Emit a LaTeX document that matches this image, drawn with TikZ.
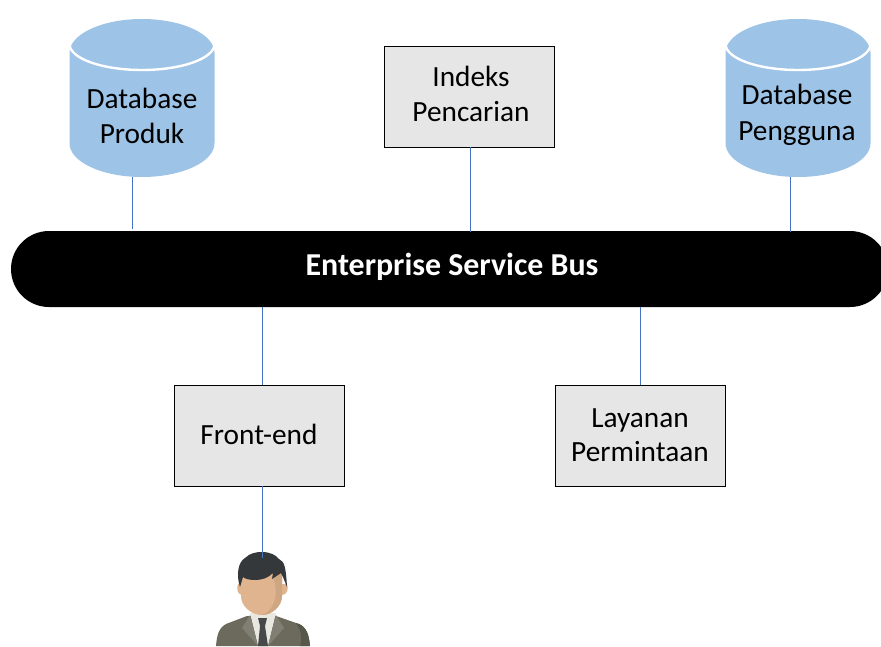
\documentclass[tikz,border=0pt]{standalone}
\usepackage{fontspec}
\setmainfont{Carlito}
\usetikzlibrary{shapes.geometric}
\definecolor{dbblue}{HTML}{9DC3E6}
\definecolor{boxgray}{HTML}{E6E6E6}
\definecolor{linkblue}{HTML}{4472C4}
\definecolor{hairgray}{HTML}{34383B}
\definecolor{skin}{HTML}{DFB48F}
\definecolor{skindark}{HTML}{CFA682}
\definecolor{suit}{HTML}{6B6A5C}
\definecolor{suitdark}{HTML}{58574C}
\definecolor{lapel}{HTML}{7F7F74}
\definecolor{shirt}{HTML}{E8E8E0}
\definecolor{tie}{HTML}{47484A}
\newcommand\nudged[1]{\raisebox{5pt}{\hspace*{4pt}#1}}

\begin{document}
\begin{tikzpicture}[x=1pt,y=-1pt]

\tikzset{database/.style = {shape=cylinder,shape border rotate=90,aspect=0.72,fill=dbblue,minimum width=145pt,minimum height=158pt,inner sep=0pt,text width=94pt,text height=50pt,text depth=0pt,anchor=shape center}}
\tikzset{dbtext/.style = {align=center,inner sep=0pt,font=\fontsize{29.3}{35}\selectfont}}
\tikzset{service/.style = {shape=rectangle,draw,line width=0.7pt,fill=boxgray,minimum width=170pt,minimum height=101pt,inner sep=0pt,align=center,font=\fontsize{29.3}{34.5}\selectfont}}
\tikzset{busbar/.style = {shape=rectangle,fill=black,rounded corners=38pt,minimum width=877pt,minimum height=76pt,inner sep=0pt,text=white,font=\fontsize{31.9}{36}\selectfont\bfseries}}
\tikzset{link/.style = {draw=linkblue,line width=0.9pt}}
\clip (0,0) rectangle (881,646);
%person
\fill[suit] (216,646) .. controls (217,634) and (219,628) .. (226,624) -- (247,616) -- (276,616) -- (299,624) .. controls (306,627) and (309,634) .. (310,646) -- cycle;
\fill[suitdark] (296,623) -- (299,624) .. controls (306,627) and (309,634) .. (310,646) -- (300,646) .. controls (303,636) and (300,628) .. (296,623) -- cycle;
\fill[shirt] (250,613) -- (276,613) -- (268,646) -- (258,646) -- cycle;
\fill[lapel] (250,615) -- (242,628) -- (258,646) -- (254,630) -- cycle;
\fill[lapel] (276,615) -- (284,628) -- (268,646) -- (272,630) -- cycle;
\fill[tie] (258,618) -- (267,618) -- (265,626) -- (268,646) -- (258,646) -- (260,626) -- cycle;
\fill[skin] (238,584) .. controls (236,589) and (238,595) .. (242,595) -- (282,595) .. controls (287,595) and (289,589) .. (287,584) -- cycle;
\fill[skin] (241,570) -- (282,570) -- (282,596) .. controls (282,606) and (272,615) .. (262,615) .. controls (251,615) and (241,606) .. (241,596) -- cycle;
\fill[skindark] (272,570) -- (282,570) -- (282,596) .. controls (282,606) and (272,615) .. (262,615) .. controls (272,612) and (276,600) .. (276,590) -- cycle;
\fill[hairgray] (240,587) .. controls (236,575) and (238,562) .. (245,558) .. controls (250,553) and (256,552) .. (262,552) .. controls (270,552) and (276,555) .. (279,559) .. controls (285,561) and (286,570) .. (287,587) -- (283,577) -- (281,573) -- (272,579) -- (273,573) .. controls (268,578) and (262,580) .. (255,580) .. controls (250,580) and (245,579) .. (243,577) -- cycle;
%verticies
\node[database] (produk) at (142,98) {};
\node[database] (pengguna) at (798,98) {};
\draw[white,line width=2.4pt] (69.5,44) arc[start angle=180,end angle=360,x radius=72.5pt,y radius=26pt];
\draw[white,line width=2.4pt] (725.5,44) arc[start angle=180,end angle=360,x radius=72.5pt,y radius=26pt];
\node[dbtext] (produktext) at (142,116) {Database\\Produk};
\node[dbtext] (penggunatext) at (797,114.5) {Database\\[1pt]Pengguna};
\node[service] (indeks) at (469,96.5) {\nudged{Indeks}\\\nudged{Pencarian}};
\node[service] (frontend) at (259,435.5) {\raisebox{2pt}{Front-end}};
\node[service] (layanan) at (640,435.5) {\raisebox{1pt}{Layanan}\\\raisebox{1pt}{Permintaan}};
\node[busbar] (bus) at (449.5,269) {\raisebox{-6pt}[0pt][0pt]{\hspace*{5pt}Enterprise Service Bus}};
\node[inner sep=0pt] (user) at (262,559) {};
%connectors
\coordinate (busproduk) at (132,229);
\coordinate (busindeks) at (470,232);
\coordinate (buspengguna) at (790,232);
\coordinate (busfront) at (262,307);
\coordinate (buslayanan) at (640,307);
\draw[link] (busproduk |- produk.south) -- (busproduk);
\draw[link] (indeks.south -| busindeks) -- (busindeks);
\draw[link] (buspengguna |- pengguna.south) -- (buspengguna);
\draw[link] (busfront) -- (frontend.north -| busfront);
\draw[link] (buslayanan) -- (layanan.north -| buslayanan);
\draw[link] (frontend.south -| user) -- (user);

\end{tikzpicture}
\end{document}
